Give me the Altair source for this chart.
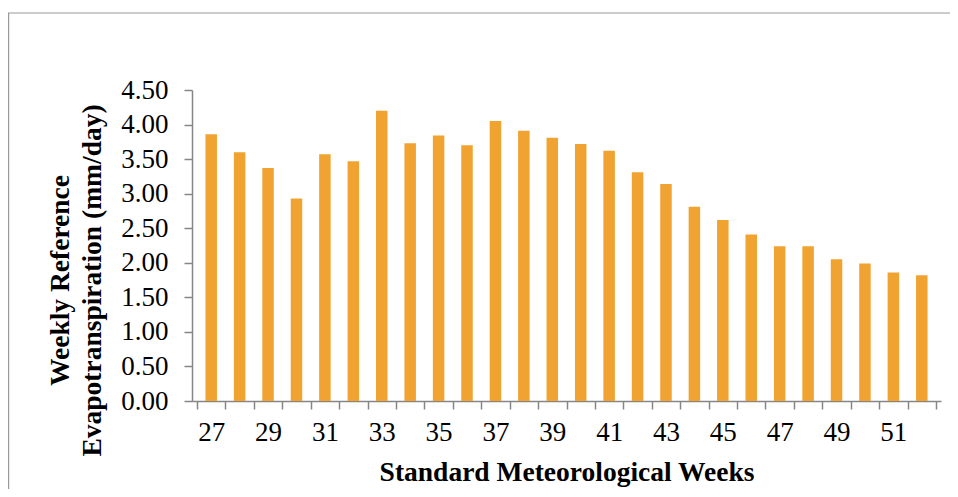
import altair as alt
import pandas as pd

weeks = list(range(27, 53))
et0 = [3.86, 3.60, 3.37, 2.93, 3.57, 3.47, 4.20, 3.73, 3.84, 3.70, 4.05, 3.91, 3.81,
       3.72, 3.62, 3.31, 3.14, 2.81, 2.62, 2.41, 2.24, 2.24, 2.05, 1.99, 1.86, 1.82]
y_ticks = [0.0, 0.5, 1.0, 1.5, 2.0, 2.5, 3.0, 3.5, 4.0, 4.5]
x_label_weeks = list(range(27, 53, 2))
x_tick_edges = [w - 0.5 for w in weeks] + [weeks[-1] + 0.5]

df = pd.DataFrame({"week": weeks, "et0": et0})

FONT = "Liberation Serif"
GRAY = "#868686"

xscale = alt.Scale(domain=[26.5, 52.5], nice=False, zero=False)
yscale = alt.Scale(domain=[0, 4.5], nice=False)

bars = alt.Chart(df).mark_bar(size=11.5, color="#F0A330").encode(
    x=alt.X("week:Q", scale=xscale,
            axis=alt.Axis(orient="bottom", values=x_tick_edges, labels=False, ticks=True,
                          tickSize=8, tickColor=GRAY, tickWidth=1.5, domainColor=GRAY,
                          domainWidth=1.5, grid=False, title="Standard Meteorological Weeks",
                          titleFont=FONT, titleFontSize=27.5, titleFontWeight="bold",
                          titleColor="black", titleBaseline="middle", titleY=71)),
    y=alt.Y("et0:Q", scale=yscale,
            axis=alt.Axis(values=y_ticks, format=".2f", tickSize=8, tickColor=GRAY,
                          tickWidth=1.5, domainColor=GRAY, domainWidth=1.5, grid=False,
                          labelFont=FONT, labelFontSize=27, labelColor="black",
                          labelPadding=16, labelOverlap=False, labelFlush=False,
                          labelBound=False,
                          title=["Weekly Reference", "Evapotranspiration (mm/day)"],
                          titleFont=FONT, titleFontSize=27.5, titleFontWeight="bold",
                          titleColor="black", titleAngle=270, titleAlign="center",
                          titleBaseline="middle", titleLineHeight=32,
                          titleX=-132, titleY=190)),
)

labels = alt.Chart(df).mark_point(opacity=0).encode(
    x=alt.X("week:Q", scale=xscale,
            axis=alt.Axis(orient="bottom", values=x_label_weeks, ticks=False, domain=False,
                          grid=False, labelFont=FONT, labelFontSize=27, labelColor="black",
                          labelPadding=18, labelOverlap=False, title=None)),
)

frame_top = alt.Chart(pd.DataFrame({"a": [0]})).mark_rule(
    stroke="#9a9a9a", strokeWidth=1.2
).encode(x=alt.value(-184), x2=alt.value(758), y=alt.value(-77))

frame_left = alt.Chart(pd.DataFrame({"a": [0]})).mark_rule(
    stroke="#9a9a9a", strokeWidth=1.2
).encode(x=alt.value(-183.4), y=alt.value(-77), y2=alt.value(399))

chart = alt.layer(frame_top, frame_left, bars, labels).resolve_axis(x="independent").properties(
    width=749, height=311,
    background="white",
    autosize=alt.AutoSizeParams(type="none"),
    padding={"left": 184, "top": 82, "right": 9, "bottom": 88},
).configure_view(strokeWidth=0, stroke="transparent")

chart.save("out.html", embed_options={"renderer": "svg", "actions": False})
